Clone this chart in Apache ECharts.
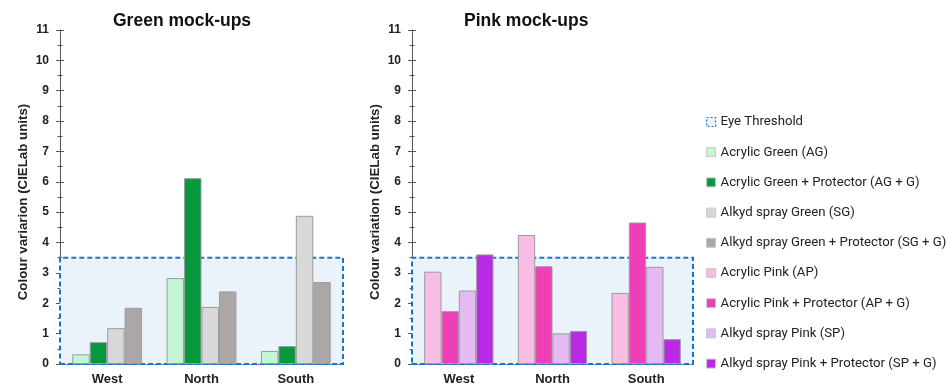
<!DOCTYPE html>
<html>
<head>
<meta charset="utf-8">
<script src="https://cdn.jsdelivr.net/npm/echarts@6/dist/echarts.min.js"></script>
<style>
  html, body { margin: 0; padding: 0; background: #fff; }
  #chart { width: 947px; height: 388px; }
</style>
</head>
<body>
<div id="chart"></div>
<script>
// Regions (x categories) shared by both panels
const regions = ['West', 'North', 'South'];
const yTicks = [0, 1, 2, 3, 4, 5, 6, 7, 8, 9, 10, 11];
const eyeThreshold = 3.5;

// Green mock-ups: colour variation per region
const acrylicGreen = [0.32, 2.83, 0.43];
const acrylicGreenProt = [0.72, 6.12, 0.59];
const alkydGreen = [1.18, 1.88, 4.88];
const alkydGreenProt = [1.85, 2.39, 2.70];

// Pink mock-ups: colour variation per region
const acrylicPink = [3.04, 4.25, 2.34];
const acrylicPinkProt = [1.74, 3.22, 4.66];
const alkydPink = [2.42, 1.01, 3.20];
const alkydPinkProt = [3.61, 1.09, 0.82];

const seriesNames = [
  'Acrylic Green (AG)', 'Acrylic Green + Protector (AG + G)',
  'Alkyd spray Green (SG)', 'Alkyd spray Green + Protector (SG + G)',
  'Acrylic Pink (AP)', 'Acrylic Pink + Protector (AP + G)',
  'Alkyd spray Pink (SP)', 'Alkyd spray Pink + Protector (SP + G)'
];
const seriesColors = [
  '#c4f6d4', '#08993f', '#d8d8d8', '#aca7a7',
  '#f8bde4', '#ef3fb6', '#e5b9f3', '#b92ae6'
];
const seriesData = [
  acrylicGreen, acrylicGreenProt, alkydGreen, alkydGreenProt,
  acrylicPink, acrylicPinkProt, alkydPink, alkydPinkProt
];

const FONT = '"Liberation Sans", Arial, sans-serif';
const thresholdName = 'Eye Threshold';
const yMax = yTicks[yTicks.length - 1];

function makeXAxis(idx) {
  return {
    type: 'category', gridIndex: idx, data: regions,
    axisLine: { lineStyle: { color: '#555', width: 1.5 } },
    axisTick: { show: false },
    axisLabel: { color: '#222', fontFamily: FONT, fontWeight: 'bold', fontSize: 13, margin: 9 }
  };
}
// Main value axis: line, outward ticks, labels and title
function makeYAxis(idx, name) {
  return {
    type: 'value', gridIndex: idx, min: 0, max: yMax, interval: 1,
    name: name, nameLocation: 'middle', nameGap: 30,
    nameTextStyle: { color: '#222', fontFamily: FONT, fontWeight: 'bold', fontSize: 13.3, padding: [0, 10, 0, 0] },
    axisLine: { show: true, lineStyle: { color: '#555', width: 1 } },
    axisTick: { show: true, length: 4, lineStyle: { color: '#555' } },
    minorTick: { show: true, splitNumber: 2, length: 2.5, lineStyle: { color: '#555' } },
    splitLine: { show: false },
    axisLabel: { color: '#222', fontFamily: FONT, fontWeight: 'bold', fontSize: 12, margin: 11 }
  };
}
// Companion axis drawing the inward half of the crossing ticks
function makeInnerTicks(idx) {
  return {
    type: 'value', gridIndex: idx, min: 0, max: yMax, interval: 1, position: 'left',
    axisLine: { show: false },
    axisTick: { show: true, inside: true, length: 4, lineStyle: { color: '#555' } },
    minorTick: { show: true, splitNumber: 2, length: 2.5, lineStyle: { color: '#555' } },
    splitLine: { show: false },
    axisLabel: { show: false }
  };
}
function thresholdSeries(idx) {
  return {
    name: thresholdName, type: 'line', xAxisIndex: idx, yAxisIndex: idx,
    data: [], silent: true,
    itemStyle: { color: '#1a74c9' },
    markArea: {
      silent: true,
      itemStyle: { color: '#eaf2fa', borderColor: '#1a74c9', borderWidth: 2, borderType: [5, 3] },
      data: [[{ yAxis: 0 }, { yAxis: eyeThreshold }]]
    }
  };
}

const series = [thresholdSeries(0), thresholdSeries(1)];
seriesData.forEach((d, i) => {
  const g = i < 4 ? 0 : 1;
  series.push({
    name: seriesNames[i], type: 'bar', xAxisIndex: g, yAxisIndex: g,
    data: d, barGap: '0%', barCategoryGap: '26%', z: 3,
    itemStyle: { color: seriesColors[i], borderColor: '#9c9c9c', borderWidth: 1 }
  });
});

const legendData = [{
  name: thresholdName, icon: 'rect',
  itemStyle: { color: '#eaf2fa', borderColor: '#1a74c9', borderWidth: 1.2, borderType: [2, 2] }
}].concat(seriesNames.map((n, i) => ({
  name: n, icon: 'rect',
  itemStyle: { color: seriesColors[i], borderColor: '#c8c8c8', borderWidth: 1 }
})));

const option = {
  animation: false,
  backgroundColor: '#fff',
  title: [
    { text: 'Green mock-ups', left: 113, top: 12, padding: 0,
      textStyle: { fontFamily: FONT, fontWeight: 'bold', fontSize: 17.5, color: '#111' } },
    { text: 'Pink mock-ups', left: 464, top: 12, padding: 0,
      textStyle: { fontFamily: FONT, fontWeight: 'bold', fontSize: 17.5, color: '#111' } }
  ],
  legend: {
    orient: 'vertical', left: 706, top: 114, padding: 0,
    itemWidth: 9, itemHeight: 9, itemGap: 14.2,
    selectedMode: false,
    textStyle: { fontFamily: 'Roboto, sans-serif', fontSize: 13.2, color: '#222', lineHeight: 16 },
    data: legendData
  },
  grid: [
    { left: 60, top: 30, width: 283, height: 334 },
    { left: 412, top: 30, width: 281, height: 334 }
  ],
  xAxis: [makeXAxis(0), makeXAxis(1)],
  yAxis: [
    makeYAxis(0, 'Colour variarion (CIELab units)'),
    makeYAxis(1, 'Colour variation (CIELab units)'),
    makeInnerTicks(0),
    makeInnerTicks(1)
  ],
  series: series
};

const chart = echarts.init(document.getElementById('chart'), null, { renderer: 'canvas' });
chart.setOption(option);
</script>
</body>
</html>
